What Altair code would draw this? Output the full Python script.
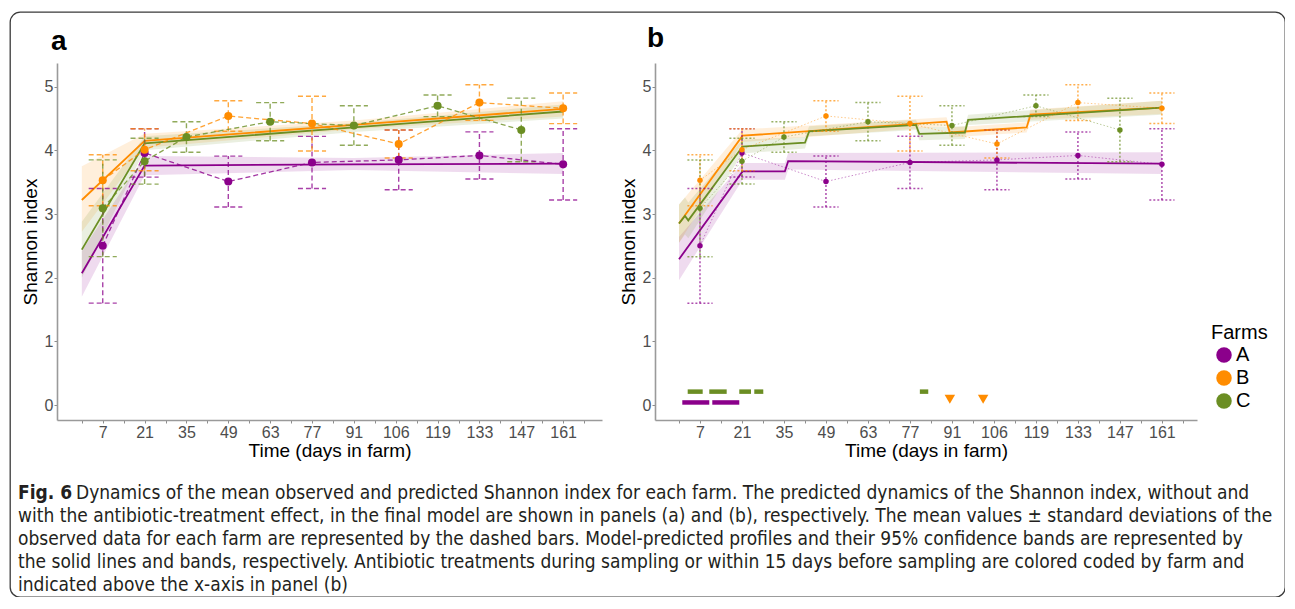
import altair as alt
import pandas as pd

FARMS = ["A", "B", "C"]
FARM_COLORS = ["#8B008B", "#FF8C00", "#6B8E23"]

# ---- observed data: mean and SD per sampling day ----
obs_days_A = [7, 21, 49, 77, 106, 133, 161]
obs_mean_A = [2.50, 3.96, 3.51, 3.81, 3.85, 3.92, 3.78]
obs_sd_A = [0.90, 0.38, 0.40, 0.41, 0.47, 0.37, 0.56]
obs_days_B = [7, 21, 49, 77, 106, 133, 161]
obs_mean_B = [3.53, 4.01, 4.54, 4.42, 4.10, 4.75, 4.66]
obs_sd_B = [0.40, 0.33, 0.24, 0.43, 0.22, 0.28, 0.24]
obs_days_C = [7, 21, 35, 63, 91, 119, 147]
obs_mean_C = [3.09, 3.83, 4.21, 4.45, 4.39, 4.70, 4.32]
obs_sd_C = [0.76, 0.36, 0.24, 0.30, 0.31, 0.17, 0.50]

# ---- panel a: model predictions without treatment effect ----
pa_days = [0, 21, 91, 161]
pa_fit_A = [2.07, 3.76, 3.78, 3.79]
pa_lo_A = [1.70, 3.61, 3.69, 3.63]
pa_hi_A = [2.42, 3.91, 3.88, 3.96]
pa_fit_B = [3.22, 4.15, 4.40, 4.65]
pa_lo_B = [2.72, 4.04, 4.33, 4.53]
pa_hi_B = [3.75, 4.26, 4.47, 4.77]
pa_fit_C = [2.44, 4.11, 4.36, 4.61]
pa_lo_C = [2.00, 4.00, 4.29, 4.50]
pa_hi_C = [2.88, 4.22, 4.43, 4.72]

# ---- panel b: model predictions with treatment effect ----
pb_days_A = [0, 21.2, 35.3, 36.4, 161]
pb_fit_A = [2.29, 3.67, 3.67, 3.83, 3.79]
pb_lo_A = [1.96, 3.54, 3.54, 3.70, 3.63]
pb_hi_A = [2.64, 3.80, 3.80, 3.96, 3.97]
pb_days_B = [0, 21.2, 89.2, 90.3, 115.9, 117.2, 161]
pb_fit_B = [2.85, 4.23, 4.45, 4.28, 4.36, 4.56, 4.67]
pb_lo_B = [2.55, 4.13, 4.38, 4.20, 4.28, 4.48, 4.57]
pb_hi_B = [3.15, 4.33, 4.52, 4.36, 4.44, 4.64, 4.78]
pb_days_C = [0, 2.0, 3.1, 21.2, 42.0, 43.4, 79.0, 80.1, 95.3, 96.4, 161]
pb_fit_C = [2.85, 2.97, 2.90, 4.06, 4.12, 4.30, 4.40, 4.26, 4.28, 4.48, 4.67]
pb_lo_C = [2.55, 2.68, 2.62, 3.95, 4.03, 4.22, 4.32, 4.16, 4.18, 4.40, 4.56]
pb_hi_C = [3.15, 3.26, 3.18, 4.17, 4.21, 4.38, 4.48, 4.36, 4.38, 4.56, 4.78]

# ---- antibiotic treatments (days) ----
trt_start_A = [1.1, 11.1]
trt_end_A = [10.1, 20.1]
trt_start_C = [2.9, 10.1, 20.1, 25.1, 80.3]
trt_end_C = [7.9, 15.9, 24.0, 28.1, 83.1]
trt_days_B = [90.3, 101.4]
TRT_LEVEL = {"A": 0.04, "B": 0.09, "C": 0.21}

X_TICKS = list(range(0, 169, 7))
Y_TICKS = [0, 1, 2, 3, 4, 5]

CAPTION_BOLD = "Fig. 6"
CAPTION_LINES = [
    "Dynamics of the mean observed and predicted Shannon index for each farm. The predicted dynamics of the Shannon index, without and",
    "with the antibiotic-treatment effect, in the final model are shown in panels (a) and (b), respectively. The mean values \u00b1 standard deviations of the",
    "observed data for each farm are represented by the dashed bars. Model-predicted profiles and their 95% confidence bands are represented by",
    "the solid lines and bands, respectively. Antibiotic treatments during sampling or within 15 days before sampling are colored coded by farm and",
    "indicated above the x-axis in panel (b)",
]

# ---------------- tables ----------------
obs_rows = []
for f, ds, ms, ss in [("A", obs_days_A, obs_mean_A, obs_sd_A),
                      ("B", obs_days_B, obs_mean_B, obs_sd_B),
                      ("C", obs_days_C, obs_mean_C, obs_sd_C)]:
    for d, m, s in zip(ds, ms, ss):
        obs_rows.append({"farm": f, "day": d, "mean": m, "lo": m - s, "hi": m + s})
obs = pd.DataFrame(obs_rows)


def caps(cap_half):
    rows = []
    for r in obs_rows:
        for v in (r["lo"], r["hi"]):
            rows.append({"farm": r["farm"], "x0": r["day"] - cap_half,
                         "x1": r["day"] + cap_half, "v": v})
    return pd.DataFrame(rows)


def pred_table(sets):
    rows = []
    for f, ds, fit, lo, hi in sets:
        for d, a, b, c in zip(ds, fit, lo, hi):
            rows.append({"farm": f, "day": d, "fit": a, "lo": b, "hi": c})
    return pd.DataFrame(rows)


pred_a = pred_table([("A", pa_days, pa_fit_A, pa_lo_A, pa_hi_A),
                     ("B", pa_days, pa_fit_B, pa_lo_B, pa_hi_B),
                     ("C", pa_days, pa_fit_C, pa_lo_C, pa_hi_C)])
pred_b = pred_table([("A", pb_days_A, pb_fit_A, pb_lo_A, pb_hi_A),
                     ("B", pb_days_B, pb_fit_B, pb_lo_B, pb_hi_B),
                     ("C", pb_days_C, pb_fit_C, pb_lo_C, pb_hi_C)])

trt_bars = pd.DataFrame(
    [{"farm": "A", "s": s, "e": e, "lvl": TRT_LEVEL["A"]} for s, e in zip(trt_start_A, trt_end_A)]
    + [{"farm": "C", "s": s, "e": e, "lvl": TRT_LEVEL["C"]} for s, e in zip(trt_start_C, trt_end_C)]
)
trt_pts = pd.DataFrame([{"farm": "B", "day": d, "lvl": TRT_LEVEL["B"]} for d in trt_days_B])

# ---------------- layout ----------------
W, H = 1275, 585
Y_RANGE = [408, 51]
YDOM = [-0.2356, 5.372]
FONT = "Liberation Sans, Arial, Helvetica, sans-serif"

cscale = alt.Scale(domain=FARMS, range=FARM_COLORS)
legend = alt.Legend(title="Farms", orient="none", legendX=1201, legendY=311,
                    symbolType="circle", symbolSize=240, symbolStrokeWidth=0,
                    symbolOpacity=1, symbolOffset=3, titleFontSize=20, labelFontSize=20,
                    titleFont=FONT, labelFont=FONT, titleFontWeight="normal",
                    titleColor="black", labelColor="black", rowPadding=3,
                    titlePadding=2, padding=0, labelOffset=2)

LABEL_EXPR = "datum.value % 14 == 7 ? (datum.value == 105 ? '106' : datum.label) : ''"


def panel(pred, xdom, xrange, y_offset, cap_half, dash, err_w, err_op,
          conn_dash, conn_w, conn_op, pt_size, extra=()):
    xs = alt.Scale(domain=xdom, range=xrange, nice=False, zero=False)
    ys = alt.Scale(domain=YDOM, range=Y_RANGE, nice=False, zero=False)
    xax = alt.Axis(orient="bottom", offset=Y_RANGE[0] - H, values=X_TICKS,
                   labelExpr=LABEL_EXPR, labelOverlap=False, grid=False,
                   title="Time (days in farm)", titleFontSize=19, titleFont=FONT,
                   titleFontWeight="normal", titleColor="black", titlePadding=1,
                   labelFontSize=16, labelFont=FONT, labelColor="#4D4D4D",
                   labelPadding=1, tickSize=3, tickColor="#8C8C8C",
                   domainColor="#9A9A9A", domainWidth=1.6)
    yax = alt.Axis(orient="left", offset=y_offset, values=Y_TICKS, grid=False,
                   title="Shannon index", titleFontSize=19, titleFont=FONT,
                   titleFontWeight="normal", titleColor="black", titlePadding=4,
                   labelFontSize=16, labelFont=FONT, labelColor="#4D4D4D",
                   labelPadding=1, tickSize=3, tickColor="#8C8C8C",
                   domainColor="#9A9A9A", domainWidth=1.6)
    col = alt.Color("farm:N", scale=cscale, legend=None)

    def X(f):
        return alt.X(f, scale=xs, axis=xax)

    def Y(f):
        return alt.Y(f, scale=ys, axis=yax)

    band = alt.Chart(pred).mark_area(opacity=0.14).encode(
        x=X("day:Q"), y=Y("lo:Q"), y2="hi:Q", color=col)
    line = alt.Chart(pred).mark_line(strokeWidth=1.8).encode(
        x=X("day:Q"), y=Y("fit:Q"), color=col)
    err = alt.Chart(obs).mark_rule(strokeDash=dash, strokeWidth=err_w, opacity=err_op).encode(
        x=X("day:Q"), y=Y("lo:Q"), y2="hi:Q", color=col)
    cap = alt.Chart(caps(cap_half)).mark_rule(strokeDash=dash, strokeWidth=err_w, opacity=err_op).encode(
        x=X("x0:Q"), x2="x1:Q", y=Y("v:Q"), color=col)
    conn = alt.Chart(obs).mark_line(strokeDash=conn_dash, strokeWidth=conn_w, opacity=conn_op).encode(
        x=X("day:Q"), y=Y("mean:Q"), color=col)
    pts = alt.Chart(obs).mark_circle(size=pt_size, opacity=1).encode(
        x=X("day:Q"), y=Y("mean:Q"), color=col)
    layers = [band, line, err, cap, conn, pts]
    for e in extra:
        layers.append(e(X, Y, col))
    return alt.layer(*layers)


def trt_bar_layer(X, Y, col):
    return alt.Chart(trt_bars).mark_rule(strokeWidth=4.5).encode(
        x=X("s:Q"), x2="e:Q", y=Y("lvl:Q"), color=col)


def trt_pt_layer(X, Y, col):
    return alt.Chart(trt_pts).mark_point(shape="triangle-down", filled=True, size=110, opacity=1).encode(
        x=X("day:Q"), y=Y("lvl:Q"), color=col)


panel_a = panel(pred_a, [-8.3, 174], [47, 592], -47, 4.7, [5, 3], 1.4, 0.75,
                [5, 3], 1.3, 0.8, 65)
panel_b = panel(pred_b, [-8.0, 172.7], [645, 1187], -645, 4.2, [2, 2], 1.5, 0.7,
                [1.5, 2], 1.0, 0.45, 30, extra=(trt_bar_layer, trt_pt_layer))

# legend carrier (first layer so its legend settings win the merge)
legend_layer = alt.Chart(pd.DataFrame({"farm": FARMS})).mark_circle(opacity=0).encode(
    color=alt.Color("farm:N", scale=cscale, legend=legend))

lab_a = alt.Chart(pd.DataFrame({"t": ["a"]})).mark_text(
    font=FONT, fontSize=28, fontWeight="bold", align="left", baseline="alphabetic", color="black"
).encode(text="t:N", x=alt.value(41), y=alt.value(38))
lab_b = alt.Chart(pd.DataFrame({"t": ["b"]})).mark_text(
    font=FONT, fontSize=28, fontWeight="bold", align="left", baseline="alphabetic", color="black"
).encode(text="t:N", x=alt.value(637), y=alt.value(35))

cap_df = pd.DataFrame({"i": list(range(len(CAPTION_LINES))), "t": CAPTION_LINES})
CAP_FONT = "Liberation Sans Narrow, Arial Narrow, DejaVu Sans Condensed, Roboto Condensed, sans-serif"
CAP_SIZE = 19.0


def cap_y():
    return alt.Y("i:Q", scale=alt.Scale(domain=[0, 4], range=[481, 573]), axis=None)


cap_first = alt.Chart(cap_df).transform_filter("datum.i == 0").mark_text(
    font=CAP_FONT, fontSize=CAP_SIZE, align="left", baseline="middle", color="#231F20"
).encode(text="t:N", x=alt.value(66), y=cap_y())
cap_rest = alt.Chart(cap_df).transform_filter("datum.i > 0").mark_text(
    font=CAP_FONT, fontSize=CAP_SIZE, align="left", baseline="middle", color="#231F20"
).encode(text="t:N", x=alt.value(8), y=cap_y())
cap_bold = alt.Chart(pd.DataFrame({"i": [0], "t": [CAPTION_BOLD]})).mark_text(
    font=CAP_FONT, fontSize=CAP_SIZE, fontWeight="bold", align="left", baseline="middle", color="#231F20"
).encode(text="t:N", x=alt.value(8), y=cap_y())

chart = alt.layer(legend_layer, panel_a, panel_b, lab_a, lab_b, cap_first, cap_rest, cap_bold).resolve_scale(
    x="independent", y="independent"
).properties(
    width=W, height=H, padding={"left": 2, "top": 4, "right": 0, "bottom": 0}
).configure_view(
    stroke="#3A3A3A", strokeWidth=1.3, cornerRadius=10
)

chart.save("out.html", embed_options={"renderer": "svg", "actions": False})
